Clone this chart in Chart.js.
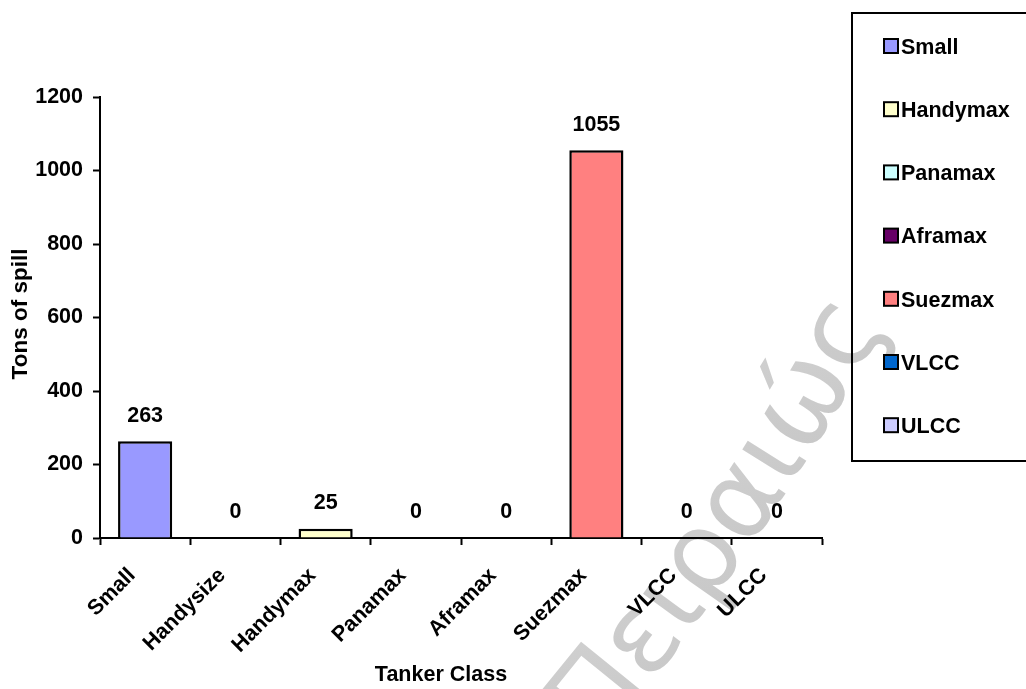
<!DOCTYPE html>
<html>
<head>
<meta charset="utf-8">
<script src="https://cdn.jsdelivr.net/npm/chart.js@4.4.1/dist/chart.umd.min.js"></script>
<style>
  html, body { margin: 0; padding: 0; background: #ffffff; }
  #wrap { position: relative; width: 1026px; height: 689px; }
</style>
</head>
<body>
<div id="wrap"><canvas id="c" width="1026" height="689"></canvas></div>
<script>
// Tanker classes and the spilled tonnage for each
const categories = ['Small', 'Handysize', 'Handymax', 'Panamax', 'Aframax', 'Suezmax', 'VLCC', 'ULCC'];
const spillTons = [263, 0, 25, 0, 0, 1055, 0, 0];
const classColors = ['#9999FF', '#993366', '#FFFFCC', '#CCFFFF', '#660066', '#FF8080', '#0066CC', '#CCCCFF'];
// Classes listed in the legend box
const legendClasses = ['Small', 'Handymax', 'Panamax', 'Aframax', 'Suezmax', 'VLCC', 'ULCC'];
const yTickValues = [0, 200, 400, 600, 800, 1000, 1200];
const xTitle = 'Tanker Class';
const yTitle = 'Tons of spill';
const watermarkText = 'Πειραιώς';

const FONT = "'Liberation Sans', Arial, sans-serif";
const FS = 21.5;

// Faint curved watermark behind the chart
const watermarkPlugin = {
  id: 'watermark',
  beforeDraw(chart) {
    const ctx = chart.ctx;
    ctx.save();
    ctx.font = "110px 'DejaVu Sans', sans-serif";
    const g = ctx.createLinearGradient(560, 690, 880, 330);
    g.addColorStop(0, 'rgb(192,192,192)');
    g.addColorStop(1, 'rgb(224,224,224)');
    ctx.fillStyle = g;
    ctx.textAlign = 'center';
    ctx.textBaseline = 'alphabetic';
    let x = 598, y = 748;
    let h = -50 * Math.PI / 180;
    const turn = -0.0004;
    for (const ch of watermarkText) {
      const w = ctx.measureText(ch).width;
      const hm = h + turn * w / 2;
      const cx = x + Math.cos(hm) * w / 2;
      const cy = y + Math.sin(hm) * w / 2;
      ctx.save();
      ctx.translate(cx, cy);
      ctx.rotate(hm);
      ctx.fillText(ch, 0, 0);
      ctx.restore();
      x += Math.cos(hm) * w;
      y += Math.sin(hm) * w;
      h += turn * w;
    }
    ctx.restore();
  }
};

// Value labels above bars, axis titles and the boxed legend
const annotatePlugin = {
  id: 'annotate',
  afterDatasetsDraw(chart) {
    const ctx = chart.ctx;
    const meta = chart.getDatasetMeta(0);
    ctx.save();
    ctx.font = 'bold ' + FS + 'px ' + FONT;
    ctx.fillStyle = '#000';
    ctx.textAlign = 'center';
    ctx.textBaseline = 'middle';
    meta.data.forEach((bar, i) => {
      ctx.fillText(String(spillTons[i]), bar.x, bar.y - 25.5);
    });
    ctx.restore();
  },
  afterDraw(chart) {
    const ctx = chart.ctx;
    ctx.save();
    ctx.font = 'bold ' + FS + 'px ' + FONT;
    ctx.fillStyle = '#000';

    // x axis title
    ctx.textAlign = 'center';
    ctx.textBaseline = 'alphabetic';
    ctx.fillText(xTitle, 441, 681);

    // y axis title
    ctx.save();
    ctx.font = 'bold 22.5px ' + FONT;
    ctx.translate(27, 314);
    ctx.rotate(-Math.PI / 2);
    ctx.fillText(yTitle, 0, 0);
    ctx.restore();

    // legend box
    ctx.strokeStyle = '#000';
    ctx.lineWidth = 2;
    ctx.strokeRect(852, 13, 200, 448);
    ctx.textAlign = 'left';
    legendClasses.forEach((name, k) => {
      const cy = 46 + k * 63.2;
      const color = classColors[categories.indexOf(name)];
      ctx.fillStyle = color;
      ctx.fillRect(884, cy - 7, 14, 14);
      ctx.lineWidth = 2;
      ctx.strokeRect(884, cy - 7, 14, 14);
      ctx.fillStyle = '#000';
      ctx.fillText(name, 901, cy + 7.7);
    });
    ctx.restore();
  }
};

const tickFont = { family: FONT, size: FS, weight: 'bold' };

new Chart(document.getElementById('c'), {
  type: 'bar',
  data: {
    labels: categories,
    datasets: [{
      data: spillTons,
      backgroundColor: classColors,
      borderColor: '#000000',
      borderWidth: 2.5,
      barPercentage: 0.6,
      categoryPercentage: 1.0
    }]
  },
  options: {
    responsive: false,
    animation: false,
    events: [],
    layout: { padding: { left: 0, top: 97, right: 204, bottom: 0 } },
    plugins: {
      legend: { display: false },
      tooltip: { enabled: false },
      title: { display: false }
    },
    scales: {
      x: {
        offset: true,
        z: 1,
        grid: { display: true, drawOnChartArea: false, offset: true, tickLength: 7, tickWidth: 2, tickColor: '#000' },
        border: { display: true, color: '#000', width: 2 },
        ticks: {
          color: '#000', font: tickFont, minRotation: 45, maxRotation: 45,
          autoSkip: false, padding: 18, labelOffset: -13
        },
        afterFit(scale) { scale.height = 151; }
      },
      y: {
        min: 0, max: 1200,
        z: 1,
        afterBuildTicks(scale) { scale.ticks = yTickValues.map(v => ({ value: v })); },
        grid: { display: true, drawOnChartArea: false, tickLength: 7, tickWidth: 2, tickColor: '#000' },
        border: { display: true, color: '#000', width: 2 },
        ticks: { color: '#000', font: tickFont, padding: 10, callback: v => String(v) },
        afterFit(scale) { scale.width = 100; }
      }
    }
  },
  plugins: [watermarkPlugin, annotatePlugin]
});
</script>
</body>
</html>
